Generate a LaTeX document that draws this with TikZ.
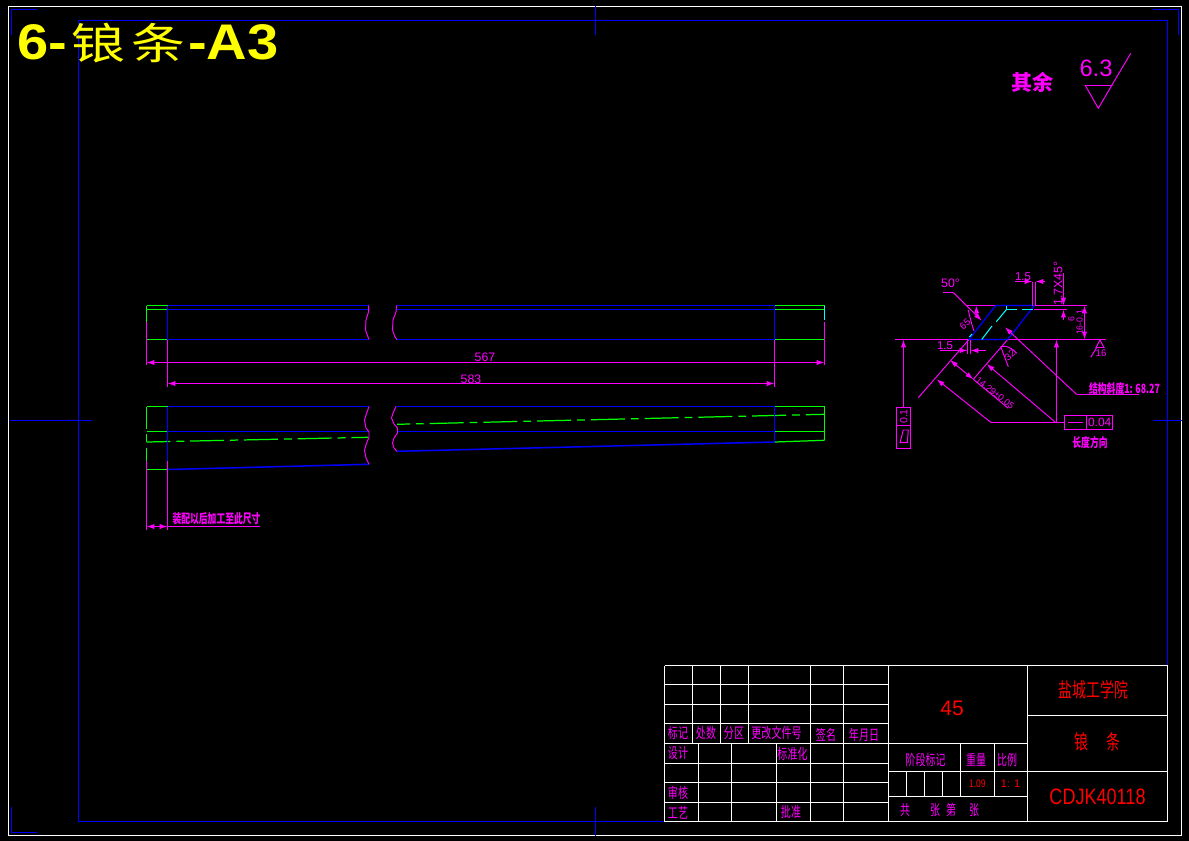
\documentclass[tikz,border=0pt]{standalone}
\usepackage{fontspec}
\usepackage{tikz}
\usetikzlibrary{arrows.meta}
\setmainfont{Liberation Sans}
\newfontfamily\cjk{Noto Sans CJK SC}
\definecolor{cadblue}{RGB}{0,0,255}
\definecolor{cadgreen}{RGB}{0,255,0}
\definecolor{cadcyan}{RGB}{0,255,255}
\definecolor{cadpink}{RGB}{255,0,255}
\definecolor{cadred}{RGB}{255,0,0}
\definecolor{cadyellow}{RGB}{255,255,0}
\newcommand{\cadsize}[1]{\fontsize{#1}{#1}\selectfont}
\newcommand{\tall}[1]{\scalebox{1}[1.45]{#1}}
\newcommand{\wide}[1]{\scalebox{1.12}[1]{#1}}
\tikzset{
  frameline/.style={white,line width=0.6pt},
  bodyblue/.style={cadblue,line width=0.85pt},
  bodygreen/.style={cadgreen,line width=0.7pt},
  bodycyan/.style={cadcyan,line width=0.6pt},
  dimline/.style={cadpink,line width=0.55pt},
  dimtip/.style={>={Latex[length=4.5pt,width=3pt]}},
  centreline/.style={cadgreen,line width=0.7pt,dash pattern=on 19.3pt off 3.4pt on 4.5pt off 3.4pt},
  dimtext/.style={cadpink,inner sep=0pt,font=\cadsize{7}},
  blocktext/.style={cadpink,inner sep=0pt,font=\cjk\cadsize{5.7}},
  notetext/.style={cadpink,inner sep=0pt,font=\cjk\bfseries\cadsize{5}},
  redtext/.style={cadred,inner sep=0pt,font=\cadsize{7}},
  redcjk/.style={cadred,inner sep=0pt,font=\cjk\cadsize{7.9}},
}
\begin{document}
\begin{tikzpicture}[x=0.02cm,y=-0.02cm]
  \useasboundingbox (0,0) rectangle (1189,841);
  \fill[black] (0,0) rectangle (1189,841);

  % sheet frames
  \draw[frameline] (8.5,6.5) rectangle (1181.5,835.5);
  \draw[bodyblue] (78.5,20.5) rectangle (1167.5,821.5);
  \draw[bodyblue] (11.5,35) -- (11.5,9.5) -- (37,9.5);
  \draw[bodyblue] (11.5,807) -- (11.5,832.5) -- (37,832.5);
  \draw[bodyblue] (1153,9.5) -- (1178.5,9.5) -- (1178.5,35);
  \draw[bodyblue] (595.5,6.5) -- (595.5,35);
  \draw[bodyblue] (595.5,807) -- (595.5,835.5);
  \draw[bodyblue] (10,420.5) -- (92,420.5);
  \draw[bodyblue] (1153,420.5) -- (1181.5,420.5);

  \node[cadyellow,anchor=base west,inner sep=0pt,font=\bfseries\cadsize{28.5}] (sheettitle) at (17,60)
    {\wide{6-}\kern2.6pt\scalebox{1}[.8]{\cjk\mdseries\cadsize{30.6}锒\kern3.4pt 条}\kern1.6pt\wide{-A3}};

  % roughness note
  \node[notetext,font=\cjk\bfseries\cadsize{12}] (othernote) at (1032.5,82) {其余};
  \node[cadpink,inner sep=0pt,font=\cadsize{13.5}] (roughvalue) at (1096,68) {6.3};
  \draw[dimline] (1085.3,85.5) -- (1111.7,85.5) -- (1098.3,108.3) -- cycle;
  \draw[dimline] (1111.7,85.5) -- (1130.7,53.3);

  % upper view
  \foreach \y in {305.5,309.5,339.5} {
    \draw[bodygreen] (146.5,\y) -- (167.5,\y);
    \draw[bodyblue] (167.5,\y) -- (368.7,\y);
    \draw[bodyblue] (396.5,\y) -- (774.5,\y);
    \draw[bodygreen] (774.5,\y) -- (824.5,\y);
  }
  \draw[bodygreen] (146.5,305.5) -- (146.5,322);
  \draw[bodyblue] (167.5,305.5) -- (167.5,339.5);
  \draw[bodyblue] (774.5,305.5) -- (774.5,339.5);
  \draw[bodycyan] (824.5,305.5) -- (824.5,320);
  \draw[dimline] (146.5,322) -- (146.5,365);
  \draw[dimline] (167.5,339.5) -- (167.5,387);
  \draw[dimline] (774.5,339.5) -- (774.5,387);
  \draw[dimline] (824.5,322) -- (824.5,365);
  \draw[dimline] (368.7,305.5) -- (368.5,312) -- (366,320) -- (365.5,330) -- (368,337) -- (369,339.5);
  \draw[dimline] (396.5,305.5) -- (396,312) -- (393,320) -- (392.5,330) -- (395,337) -- (397,339.5);
  \draw[dimline,dimtip,<->] (146.5,362.5) -- (824.5,362.5);
  \draw[dimline,dimtip,<->] (167.5,383.5) -- (774.5,383.5);
  \node[dimtext] (lengthtop) at (485,357) {567};
  \node[dimtext] (lengthlow) at (471,379) {583};

  % lower view
  \draw[bodygreen] (146.5,406.5) -- (167.5,406.5);
  \draw[bodyblue] (167.5,406.5) -- (369,406.5);
  \draw[bodyblue] (396,406.5) -- (774.5,406.5);
  \draw[bodygreen] (774.5,406.5) -- (824.5,406.5);
  \draw[bodygreen] (146.5,431.5) -- (167.5,431.5);
  \draw[bodyblue] (167.5,431.5) -- (369,431.5);
  \draw[bodyblue] (397.5,431.5) -- (774.5,431.5);
  \draw[bodygreen] (774.5,431.5) -- (824.5,431.5);
  \draw[bodygreen] (146.5,469.5) -- (167.5,469.5);
  \draw[bodyblue] (167.5,469.5) -- (369,464.3);
  \draw[bodyblue] (397,451.3) -- (774.5,442);
  \draw[bodygreen] (774.5,442) -- (824.5,440.3);
  \draw[centreline,dash phase=5.7pt] (146.5,442) -- (368,437.3);
  \draw[centreline,dash phase=12pt] (397,424.3) -- (824.5,414.3);
  \draw[bodygreen] (146.5,406.5) -- (146.5,429);
  \draw[bodygreen] (146.5,434) -- (146.5,442);
  \draw[bodygreen] (146.5,448) -- (146.5,461);
  \draw[bodygreen] (824.5,406.5) -- (824.5,440.3);
  \draw[bodyblue] (167.5,406.5) -- (167.5,461);
  \draw[bodyblue] (774.5,406.5) -- (774.5,442);
  \draw[dimline] (146.5,461) -- (146.5,530);
  \draw[dimline] (167.5,461) -- (167.5,530);
  \draw[dimline] (369,406.5) -- (366,415) -- (364.5,420) -- (366,428) -- (369,432) -- (369,437) -- (366,445) -- (364.5,450) -- (366,458) -- (369,464.3);
  \draw[dimline] (396,406.5) -- (393,413) -- (391.5,418) -- (394,424) -- (397.5,428) -- (397.5,433) -- (394,438) -- (392.5,443) -- (394,448) -- (397,451.3);
  \draw[dimline,dimtip,<->] (146.5,526.5) -- (167.5,526.5);
  \draw[dimline] (167.5,526.5) -- (260,526.5);
  \node[notetext] (finishnote) at (216.5,518.5) {\tall{装配以后加工至此尺寸}};

  % section of the strip
  \draw[dimline] (967.3,305.5) -- (1086.7,305.5);
  \draw[dimline] (895,339.5) -- (1105.7,339.5);
  \draw[dimline] (918.3,397.7) -- (969,339.5);
  \draw[dimline] (973.3,379.3) -- (1007.7,339.5);
  \draw[bodyblue,line width=0.7pt] (969,339.5) -- (995.7,305.5) -- (1034.3,305.5) -- (1007.7,339.5) -- cycle;
  \draw[bodycyan] (1006.5,305.5) -- (1006.5,309.5) -- (1016.7,309.5);
  \draw[bodycyan] (1022,309.5) -- (1032.7,309.5);
  \draw[bodycyan] (1006.5,309.5) -- (996.3,321.7);
  \draw[bodycyan] (992,326) -- (981.7,339.5);
  \draw[bodycyan] (969.5,337) -- (972,334);

  % 50 degree leader and angle
  \draw[dimline] (943.3,292.5) -- (953.3,292.5);
  \draw[dimline,dimtip,->] (953.3,292.5) -- (981.7,320.7);
  \node[dimtext] (anglefifty) at (950.5,283) {50°};
  \draw[dimline] (968.3,310) .. controls (970,318) and (971.5,324) .. (974,331);
  \draw[dimline,dimtip,->] (977,316) -- (976,305.5);
  \node[dimtext,rotate=40,font=\cadsize{5.5}] (angleside) at (965,324) {65};

  % chamfer widths
  \draw[dimline,dimtip,->] (1015,281.5) -- (1032.5,281.5);
  \draw[dimline,dimtip,->] (1045,281.5) -- (1035.5,281.5);
  \draw[dimline] (1032.5,281.5) -- (1032.5,305.5);
  \draw[dimline] (1035.5,281.5) -- (1035.5,305.5);
  \node[dimtext,font=\cadsize{6.5}] (chamfertop) at (1023,276.5) {1.5};
  \draw[dimline,dimtip,->] (940,350.5) -- (967.5,350.5);
  \draw[dimline,dimtip,->] (986,350.5) -- (970.5,350.5);
  \draw[dimline] (967.5,339.5) -- (967.5,354);
  \draw[dimline] (970.5,339.5) -- (970.5,354);
  \node[dimtext,font=\cadsize{6.5}] (chamferlow) at (945,345.5) {1.5};

  % chamfer and height
  \draw[dimline] (1034.3,309.5) -- (1066.7,309.5);
  \draw[dimline,dimtip,->] (1063.5,273) -- (1063.5,305.5);
  \draw[dimline,dimtip,->] (1063.5,320) -- (1063.5,309.5);
  \node[dimtext,rotate=90] (chamfersize) at (1058,283.5) {1.7X45°};
  \draw[dimline,dimtip,<->] (1084.5,305.5) -- (1084.5,339.5);
  \node[dimtext,rotate=90,font=\cadsize{5}] (heightsize) at (1079.5,322.5) {16-0.1};
  \node[dimtext,rotate=90,font=\cadsize{5}] (heightmark) at (1071.3,319) {6};

  % slope leader
  \draw[dimline,dimtip,<-] (1005,327.3) -- (1076.7,394.5);
  \draw[dimline] (1076.7,394.5) -- (1139,394.5);
  \node[notetext] (slopenote) at (1124.5,388.5) {\tall{结构斜度1: 68.27}};

  % thickness
  \draw[dimline,dimtip,<-] (936.7,379.3) -- (991,422.5);
  \draw[dimline] (991,422.5) -- (1064.5,422.5);
  \draw[dimline,dimtip,<-] (986.7,364) -- (1055.7,422.5);
  \draw[dimline,dimtip,<->] (950,360) -- (973.3,379.3);
  \draw[dimline] (973.3,379.3) -- (1008.3,408.3);
  \node[dimtext,rotate=-38,font=\cadsize{5.2}] (thicksize) at (995,393) {14.29±0.05};

  % 32 angle
  \draw[dimline] (1000.7,346.7) -- (1008.3,366.7);
  \draw[dimline] (1000.7,346.7) .. controls (1006,345) and (1012,348) .. (1016.7,353.3);
  \node[dimtext,rotate=40,font=\cadsize{5.5}] (anglesmall) at (1010,355) {32};

  % feature frames
  \draw[dimline,dimtip,->] (903.5,407.5) -- (903.5,339.5);
  \draw[dimline,line width=0.6pt] (896.5,407.5) rectangle (910.5,448.5);
  \draw[dimline,line width=0.6pt] (896.5,425.5) -- (910.5,425.5);
  \node[dimtext,rotate=90,font=\cadsize{6}] (flatvalue) at (903.7,416.5) {0.1};
  \draw[dimline] (900,442.7) -- (907.3,442.7) -- (908.3,430) -- (903.3,430) -- cycle;
  \draw[dimline,dimtip,->] (1056.5,422.5) -- (1056.5,339.5);
  \draw[dimline,line width=0.6pt] (1064.5,415.5) rectangle (1112.5,429.5);
  \draw[dimline,line width=0.6pt] (1086.5,415.5) -- (1086.5,429.5);
  \draw[dimline,line width=0.6pt] (1068,422.5) -- (1082.7,422.5);
  \node[dimtext,font=\cadsize{6.8}] (straightvalue) at (1099.7,422.8) {0.04};
  \node[notetext] (lengthnote) at (1090,442.5) {\tall{长度方向}};

  % rough mark on base
  \draw[dimline] (1100,340) -- (1096,347.5) -- (1104,347.5) -- cycle;
  \draw[dimline] (1096.7,347.5) -- (1090.7,357.3);
  \node[dimtext,font=\cadsize{5.5}] (basemark) at (1101,353) {16};

  % title block
  \foreach \y in {665.5,684.5,704.5,723.5,743.5,763.5,782.5,802.5,821.5} {
    \draw[frameline] (664.5,\y) -- (888.5,\y);
  }
  \draw[frameline] (664.5,665.5) -- (664.5,821.5);
  \foreach \x in {692.5,720.5,748.5} {
    \draw[frameline] (\x,665.5) -- (\x,743.5);
  }
  \foreach \x in {698.5,731.5,776.5} {
    \draw[frameline] (\x,743.5) -- (\x,821.5);
  }
  \foreach \x in {810.5,843.5} {
    \draw[frameline] (\x,665.5) -- (\x,821.5);
  }
  \draw[frameline] (888.5,665.5) rectangle (1167.5,821.5);
  \draw[frameline] (1027.5,665.5) -- (1027.5,821.5);
  \draw[frameline] (1027.5,715.5) -- (1167.5,715.5);
  \draw[frameline] (888.5,743.5) -- (1027.5,743.5);
  \draw[frameline] (888.5,771.5) -- (1167.5,771.5);
  \draw[frameline] (888.5,796.5) -- (1027.5,796.5);
  \foreach \x in {960.5,994.5} {
    \draw[frameline] (\x,743.5) -- (\x,796.5);
  }
  \foreach \x in {906.5,924.5,942.5} {
    \draw[frameline] (\x,771.5) -- (\x,796.5);
  }

  \foreach \n/\x/\y/\t in {bjA/678/733/标记,bjB/706/733/处数,bjC/734/733/分区,bjD/776.5/733/更改文件号,
      bjE/826/735/签名,bjF/864/735/年月日,bjG/678/753.5/设计,bjH/792.5/754/标准化,
      bjI/678/792.5/审核,bjJ/678/813/工艺,bjK/791/812/批准,bjL/925.5/759.5/阶段标记,
      bjM/976/760/重量,bjN/1007/760/比例,bjO/905/810/共,bjP/935/810/张,bjQ/951/810/第,bjR/974/810/张} {
    \node[blocktext] (\n) at (\x,\y) {\tall{\t}};
  }
  \node[redtext,font=\cadsize{12}] (material) at (952,708) {45};
  \node[redcjk] (school) at (1093.5,690) {\tall{盐城工学院}};
  \node[redcjk] (partname) at (1097.5,741.7) {\tall{锒\hspace{10.7pt}条}};
  \node[redtext,font=\cadsize{12.7}] (drawingno) at (1097.5,797) {\scalebox{.81}[1]{CDJK40118}};
  \node[redtext,font=\cadsize{6.2}] (weight) at (977.3,784) {\scalebox{.78}[1]{1.09}};
  \node[redtext,font=\cadsize{6.2}] (ratio) at (1010.5,784) {1: 1};
\end{tikzpicture}
\end{document}
